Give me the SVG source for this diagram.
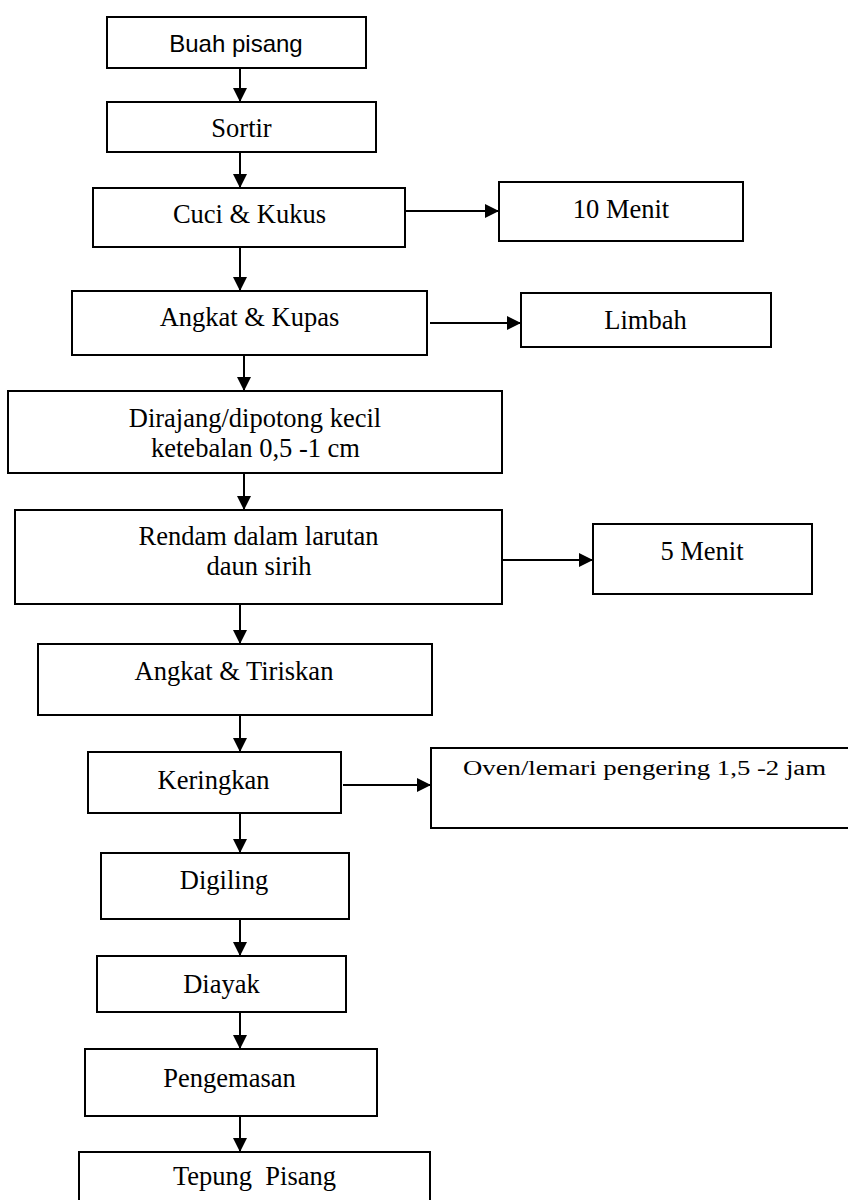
<svg xmlns="http://www.w3.org/2000/svg" width="848" height="1200" viewBox="0 0 848 1200">
<defs>
<marker id="ah" markerWidth="7" markerHeight="7" refX="7" refY="3.5" orient="auto" markerUnits="strokeWidth">
<path d="M0,0 L7,3.5 L0,7 Z" fill="#000"/>
</marker>
<style>
rect{fill:#fff;stroke:#000;stroke-width:2}
text{font-family:"Liberation Serif","Times New Roman",serif;font-size:26.5px;fill:#000;text-anchor:middle}
.sans{font-family:"Liberation Sans",Arial,sans-serif;font-size:24px}
.c line{stroke:#000;stroke-width:2;marker-end:url(#ah)}
</style>
</defs>
<rect x="0" y="0" width="848" height="1200" style="fill:#fff;stroke:none"/>
<g class="c" id="connectors">
<line x1="240" y1="68" x2="240" y2="102"/>
<line x1="240" y1="152" x2="240" y2="188"/>
<line x1="240" y1="247" x2="240" y2="291"/>
<line x1="244" y1="355" x2="244" y2="391"/>
<line x1="244" y1="473" x2="244" y2="510"/>
<line x1="240" y1="604" x2="240" y2="644"/>
<line x1="240" y1="715" x2="240" y2="752"/>
<line x1="240" y1="813" x2="240" y2="853"/>
<line x1="240" y1="919" x2="240" y2="956"/>
<line x1="240" y1="1012" x2="240" y2="1049"/>
<line x1="240" y1="1116" x2="240" y2="1152"/>
<line x1="405" y1="211" x2="499" y2="211"/>
<line x1="430" y1="323" x2="521" y2="323"/>
<line x1="502" y1="560" x2="593" y2="560"/>
<line x1="343" y1="785" x2="431" y2="785"/>
</g>
<g id="n1"><rect x="107" y="17" width="259" height="51"/><text class="sans" x="236" y="52">Buah pisang</text></g>
<g id="n2"><rect x="107" y="102" width="269" height="50"/><text x="241.5" y="137">Sortir</text></g>
<g id="n3"><rect x="93" y="188" width="312" height="59"/><text x="249.5" y="223">Cuci &amp; Kukus</text></g>
<g id="n4"><rect x="499" y="182" width="244" height="59"/><text x="621" y="218">10 Menit</text></g>
<g id="n5"><rect x="72" y="291" width="355" height="64"/><text x="249.5" y="326">Angkat &amp; Kupas</text></g>
<g id="n6"><rect x="521" y="293" width="250" height="54"/><text x="645.5" y="329">Limbah</text></g>
<g id="n7"><rect x="8" y="391" width="494" height="82"/><text x="255" y="427">Dirajang/dipotong kecil</text><text x="255.5" y="457">ketebalan 0,5 -1 cm</text></g>
<g id="n8"><rect x="15" y="510" width="487" height="94"/><text x="258.5" y="545">Rendam dalam larutan</text><text x="259" y="575">daun sirih</text></g>
<g id="n9"><rect x="593" y="524" width="219" height="70"/><text x="702" y="560">5 Menit</text></g>
<g id="n10"><rect x="38" y="644" width="394" height="71"/><text x="234" y="680">Angkat &amp; Tiriskan</text></g>
<g id="n11"><rect x="88" y="752" width="253" height="61"/><text x="213.5" y="789">Keringkan</text></g>
<g id="n12"><rect x="431" y="748" width="427" height="80"/><text x="644.5" y="775" style="font-size:20px" textLength="363" lengthAdjust="spacingAndGlyphs">Oven/lemari pengering 1,5 -2 jam</text></g>
<g id="n13"><rect x="101" y="853" width="248" height="66"/><text x="224" y="889">Digiling</text></g>
<g id="n14"><rect x="97" y="956" width="249" height="56"/><text x="221.5" y="993">Diayak</text></g>
<g id="n15"><rect x="85" y="1049" width="292" height="67"/><text x="229.5" y="1087">Pengemasan</text></g>
<g id="n16"><rect x="79" y="1152" width="351" height="60"/><text x="254.5" y="1185" xml:space="preserve">Tepung  Pisang</text></g>
</svg>
